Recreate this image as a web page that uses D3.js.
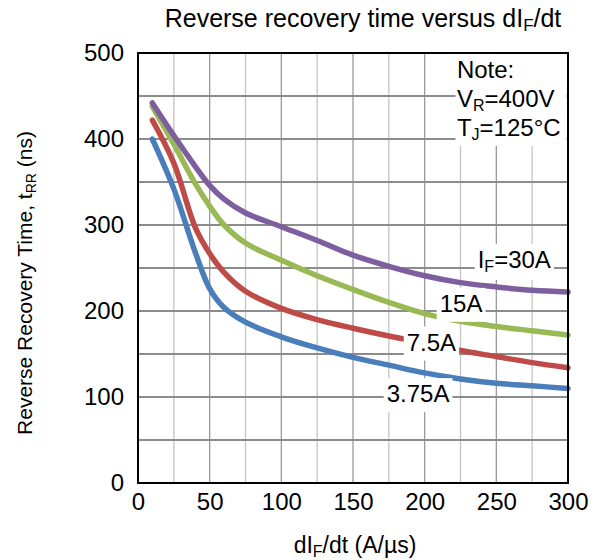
<!DOCTYPE html>
<html>
<head>
<meta charset="utf-8">
<script src="https://cdn.jsdelivr.net/npm/d3@7"></script>
<style>
body{margin:0;background:#ffffff;}
text{font-family:"Liberation Sans",Arial,sans-serif;fill:#000000;}
</style>
</head>
<body>
<svg id="chart" width="597" height="560"></svg>
<script>
// dIF/dt values (A/us) where the curves were read
var rates = [10,25,40,50,60,75,100,125,150,175,200,225,250,275,300];
// trr (ns) for each forward current
var trr375 = [400,342,268,226,204,187,170,157,146,137,128,121,116,113,110];
var trr75 = [422,372,297,267,245,223,203,190,180,171,163,154,147,140,134];
var trr15 = [438,394,348,322,300,279,259,241,225,210,197,188,182,177,172];
var trr30 = [442,404,368,346,330,314,298,282,265,252,241,233,228,224,222];
var seriesNames = ["3.75A","7.5A","15A","30A"];
var seriesColors = ["#4a7ebb","#be4b48","#98b954","#7d5fa0"];
var xTicks = [0,50,100,150,200,250,300];
var yTicks = [0,100,200,300,400,500];
var xGrid = [25,50,75,100,125,150,175,200,225,250,275];
var yGrid = [50,100,150,200,250,300,350,400,450];
// where the curve labels sit (x left edge, baseline value)
var labelX = [173.5,187.5,210.5,237];
var labelY = [94,154,199,250];

var plotLeft=138, plotRight=568, plotTop=53, plotBottom=483;
var svg = d3.select("#chart");
var x = d3.scaleLinear().domain([0,300]).range([plotLeft,plotRight]);
var y = d3.scaleLinear().domain([0,500]).range([plotBottom,plotTop]);

// grid
svg.append("g").selectAll("line").data(xGrid).enter().append("line")
  .attr("x1",d=>x(d)).attr("x2",d=>x(d)).attr("y1",plotTop).attr("y2",plotBottom)
  .attr("stroke",d=>(d%50==0)?"#9a9a9a":"#c4c4c4").attr("stroke-width",1.3);
svg.append("g").selectAll("line").data(yGrid).enter().append("line")
  .attr("y1",d=>y(d)).attr("y2",d=>y(d)).attr("x1",plotLeft).attr("x2",plotRight)
  .attr("stroke","#8c8c8c").attr("stroke-width",2);

// note box hides grid
svg.append("rect").attr("x",x(221.5)).attr("y",y(500)+1).attr("width",x(299)-x(221.5)).attr("height",y(393)-y(500))
  .attr("fill","#ffffff");

// curves
var allSeries = [trr375,trr75,trr15,trr30];
var line = d3.line().x((d,i)=>x(rates[i])).y(d=>y(d)).curve(d3.curveCatmullRom.alpha(0.5));
svg.append("g").selectAll("path").data(allSeries).enter().append("path")
  .attr("d",d=>line(d)).attr("fill","none")
  .attr("stroke",(d,i)=>seriesColors[i]).attr("stroke-width",5.5).attr("stroke-linecap","round");

// frame
svg.append("rect").attr("x",plotLeft).attr("y",plotTop).attr("width",plotRight-plotLeft).attr("height",plotBottom-plotTop)
  .attr("fill","none").attr("stroke","#000000").attr("stroke-width",2);

// axes
var xAxis = svg.append("g").attr("transform","translate(0,"+plotBottom+")")
  .call(d3.axisBottom(x).tickValues(xTicks).tickSize(0).tickPadding(10).tickFormat(d3.format("d")));
xAxis.select(".domain").remove();
xAxis.selectAll("text").attr("font-size","24px").attr("font-family","Liberation Sans, Arial, sans-serif").attr("fill","#000");
var yAxis = svg.append("g").attr("transform","translate("+plotLeft+",0)")
  .call(d3.axisLeft(y).tickValues(yTicks).tickSize(0).tickPadding(14).tickFormat(d3.format("d")));
yAxis.select(".domain").remove();
yAxis.selectAll("text").attr("font-size","24px").attr("font-family","Liberation Sans, Arial, sans-serif").attr("fill","#000");

// curve labels with white backing
var labels = svg.append("g").selectAll("g").data(seriesNames).enter().append("g");
labels.each(function(d,i){
  var g = d3.select(this);
  var t = g.append("text").attr("x",x(labelX[i])).attr("y",y(labelY[i])).attr("font-size","24px");
  if(i==3){
    t.append("tspan").text("I");
    t.append("tspan").text("F").attr("font-size","16px").attr("dy",4);
    t.append("tspan").text("=30A").attr("dy",-4);
  } else {
    t.text(d);
  }
  var b = t.node().getBBox();
  g.insert("rect","text").attr("x",b.x-3).attr("y",b.y-2).attr("width",b.width+6).attr("height",b.height+7).attr("fill","#ffffff");
});

// note
var note = svg.append("g").attr("font-size","24px");
note.append("text").attr("x",x(222.5)).attr("y",78).text("Note:");
var n2 = note.append("text").attr("x",x(222.5)).attr("y",107);
n2.append("tspan").text("V");
n2.append("tspan").text("R").attr("font-size","16px").attr("dy",4);
n2.append("tspan").text("=400V").attr("dy",-4);
var n3 = note.append("text").attr("x",x(222.5)).attr("y",136);
n3.append("tspan").text("T");
n3.append("tspan").text("J").attr("font-size","16px").attr("dy",4);
n3.append("tspan").text("=125°C").attr("dy",-4);

// title
var title = svg.append("text").attr("x",363).attr("y",27).attr("text-anchor","middle").attr("font-size","25px");
title.append("tspan").text("Reverse recovery time versus dI");
title.append("tspan").text("F").attr("font-size","17px").attr("dy",4);
title.append("tspan").text("/dt").attr("dy",-4);

// x title
var xt = svg.append("text").attr("x",355).attr("y",553).attr("text-anchor","middle").attr("font-size","23px");
xt.append("tspan").text("dI");
xt.append("tspan").text("F").attr("font-size","16px").attr("dy",4);
xt.append("tspan").text("/dt (A/µs)").attr("dy",-4);

// y title
var yt = svg.append("text").attr("transform","translate(32,"+283+") rotate(-90)").attr("text-anchor","middle").attr("font-size","21px");
yt.append("tspan").text("Reverse Recovery Time, t");
yt.append("tspan").text("RR").attr("font-size","14px").attr("dy",4);
yt.append("tspan").text(" (ns)").attr("dy",-4);
</script>
</body>
</html>
